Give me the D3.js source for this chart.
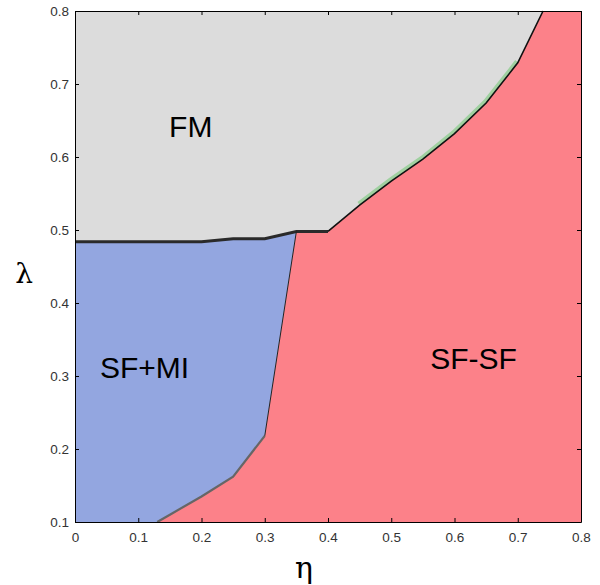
<!DOCTYPE html>
<html>
<head>
<meta charset="utf-8">
<script src="https://cdn.jsdelivr.net/npm/d3@7"></script>
<style>
  body { margin: 0; background: #fff; }
  svg { font-family: "Liberation Sans", Arial, sans-serif; }
</style>
</head>
<body>
<script>
'use strict';

var width = 600,
    height = 585;

// FM lower boundary (FM / SF+MI and FM / SF-SF)
var fmEta    = [0, 0.2, 0.25, 0.3, 0.35, 0.4, 0.45, 0.5, 0.55, 0.6, 0.65, 0.7, 0.74];
var fmLambda = [0.484, 0.484, 0.488, 0.488, 0.498, 0.498, 0.534, 0.567, 0.597, 0.632, 0.674, 0.729, 0.8];

// SF+MI / SF-SF boundary
var mixEta    = [0.13, 0.15, 0.2, 0.25, 0.3, 0.35];
var mixLambda = [0.1, 0.11, 0.135, 0.162, 0.218, 0.498];

var xTicks = [0, 0.1, 0.2, 0.3, 0.4, 0.5, 0.6, 0.7, 0.8];
var yTicks = [0.1, 0.2, 0.3, 0.4, 0.5, 0.6, 0.7, 0.8];

var x = d3.scaleLinear().domain([0, 0.8]).range([75, 581]);
var y = d3.scaleLinear().domain([0.1, 0.8]).range([522, 11]);

var svg = d3.select('body').append('svg')
    .attr('width', width)
    .attr('height', height);

var fmPts = fmEta.map(function(e, i) { return [e, fmLambda[i]]; });
var mixPts = mixEta.map(function(e, i) { return [e, mixLambda[i]]; });

var line = d3.line()
    .x(function(d) { return x(d[0]); })
    .y(function(d) { return y(d[1]); });

// FM background
svg.append('rect')
    .attr('x', x(0)).attr('y', y(0.8))
    .attr('width', x(0.8) - x(0)).attr('height', y(0.1) - y(0.8))
    .attr('fill', '#dcdcdc');

// SF-SF region
var sfsf = mixPts.concat(fmPts.filter(function(d) { return d[0] >= 0.4; }))
    .concat([[0.8, 0.8], [0.8, 0.1]]);
svg.append('path')
    .attr('d', line(sfsf) + 'Z')
    .attr('fill', '#fc8189');

// SF+MI region
var sfmi = [[0, 0.1]].concat(mixPts)
    .concat(fmPts.filter(function(d) { return d[0] <= 0.35; }).reverse());
svg.append('path')
    .attr('d', line(sfmi) + 'Z')
    .attr('fill', '#93a6e0');

// boundaries
svg.append('path')
    .attr('d', line(fmPts.filter(function(d) { return d[0] >= 0.42 && d[0] <= 0.7; })))
    .attr('fill', 'none')
    .attr('stroke', '#9fd0a0')
    .attr('stroke-width', 4)
    .attr('transform', 'translate(-1,-1.5)');

svg.append('path')
    .attr('d', line(fmPts.filter(function(d) { return d[0] <= 0.4; })))
    .attr('fill', 'none')
    .attr('stroke', '#2a2a2a')
    .attr('stroke-width', 3);

svg.append('path')
    .attr('d', line(fmPts.filter(function(d) { return d[0] >= 0.4; })))
    .attr('fill', 'none')
    .attr('stroke', '#111')
    .attr('stroke-width', 1.6);

svg.append('path')
    .attr('d', line(mixPts.slice(0, 5)))
    .attr('fill', 'none')
    .attr('stroke', '#666')
    .attr('stroke-width', 2.2);

svg.append('path')
    .attr('d', line(mixPts.slice(4)))
    .attr('fill', 'none')
    .attr('stroke', '#222')
    .attr('stroke-width', 1);

// axes (box with inward ticks)
var tickLen = 4;
svg.append('g')
    .attr('transform', 'translate(0,' + y(0.1) + ')')
    .call(d3.axisBottom(x).tickValues(xTicks).tickSizeInner(-tickLen).tickSizeOuter(0)
      .tickPadding(10).tickFormat(function(d) { return d === 0 ? '0' : d3.format('.1f')(d); }));
svg.append('g')
    .attr('transform', 'translate(0,' + y(0.8) + ')')
    .call(d3.axisTop(x).tickValues(xTicks).tickSizeInner(-tickLen).tickSizeOuter(0).tickFormat(''));
svg.append('g')
    .attr('transform', 'translate(' + x(0) + ',0)')
    .call(d3.axisLeft(y).tickValues(yTicks).tickSizeInner(-tickLen).tickSizeOuter(0)
      .tickPadding(6).tickFormat(d3.format('.1f')));
svg.append('g')
    .attr('transform', 'translate(' + x(0.8) + ',0)')
    .call(d3.axisRight(y).tickValues(yTicks).tickSizeInner(-tickLen).tickSizeOuter(0).tickFormat(''));

svg.selectAll('.tick text')
    .attr('font-size', 13.5)
    .attr('font-family', '"Liberation Sans", Arial, sans-serif')
    .attr('fill', '#333');
svg.selectAll('.domain').attr('stroke', '#000');
svg.selectAll('.tick line').attr('stroke', '#000');

// region labels
var labels = [
  { text: 'FM', eta: 0.183, lam: 0.627 },
  { text: 'SF+MI', eta: 0.11, lam: 0.297 },
  { text: 'SF-SF', eta: 0.63, lam: 0.31 }
];
svg.selectAll('.region')
  .data(labels).enter().append('text')
    .attr('class', 'region')
    .attr('x', function(d) { return x(d.eta); })
    .attr('y', function(d) { return y(d.lam); })
    .attr('text-anchor', 'middle')
    .attr('font-size', 30)
    .attr('fill', '#000')
    .text(function(d) { return d.text; });

// axis titles
svg.append('text')
    .attr('x', 24).attr('y', 283)
    .attr('text-anchor', 'middle')
    .attr('font-size', 28)
    .attr('font-family', '"DejaVu Serif", serif')
    .text('λ');
svg.append('text')
    .attr('x', 304).attr('y', 578)
    .attr('text-anchor', 'middle')
    .attr('font-size', 30)
    .attr('font-family', '"DejaVu Serif", serif')
    .text('η');
</script>
</body>
</html>
